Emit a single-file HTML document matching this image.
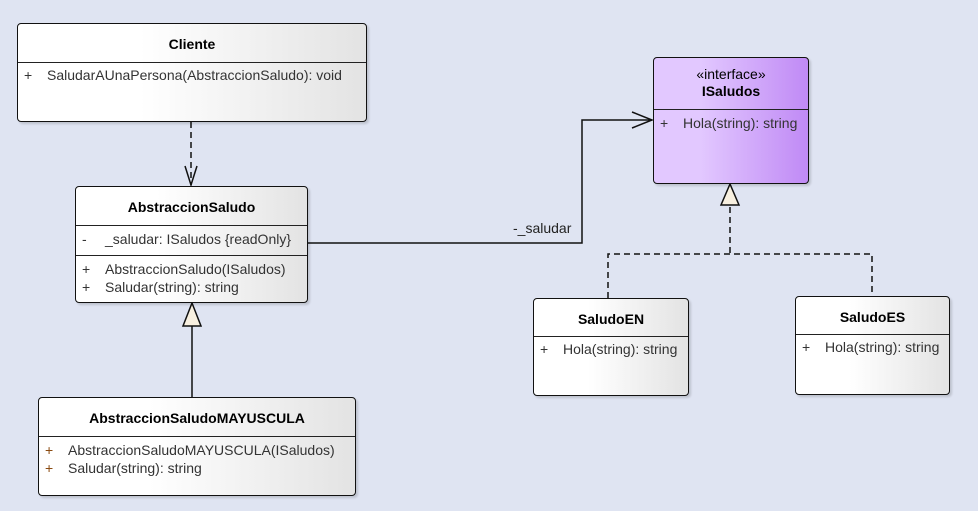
<!DOCTYPE html>
<html><head><meta charset="utf-8"><style>
body{margin:0;width:978px;height:511px;background:#dfe4f2;position:relative;overflow:hidden;font-family:"Liberation Sans",Arial,sans-serif;}
.box{position:absolute;border:1.5px solid #111;border-radius:4px;background:linear-gradient(to right,#fff 35%,#e3e3e3);box-shadow:2px 2px 2px rgba(0,0,0,0.15);box-sizing:border-box;}
.hd{font-weight:bold;font-size:14px;text-align:center;border-bottom:1px solid #222;box-sizing:border-box;}
.sec{border-bottom:1px solid #222;}
.row{font-size:14px;color:#333;height:18px;line-height:18px;position:relative;}
.row .v{position:absolute;left:6px;}
.row .t{position:absolute;left:29px;white-space:nowrap;}
.iface{background:linear-gradient(to right,#e2c8ff 30%,#c08af5);}
</style></head><body>
<svg width="978" height="511" style="position:absolute;left:0;top:0">
<g stroke="#111" stroke-width="1.5" fill="none">
<line x1="191" y1="122" x2="191" y2="185" stroke-dasharray="6,4"/>
<polyline points="185,166 191,185 197,166"/>
<polyline points="307,243 582,243 582,120 652,120"/>
<polyline points="632,112 652,120 632,128"/>
<line x1="192" y1="326" x2="192" y2="397"/>
<polygon points="192,303 183,326 201,326" fill="#f8f0e0"/>
<polygon points="730,184 721,205 739,205" fill="#f8f0e0"/>
<polyline points="730,207 730,254" stroke-dasharray="6,4"/>
<polyline points="608,298 608,254 872,254 872,296" stroke-dasharray="6,4"/>
</g>
<text x="513" y="233" font-size="14" fill="#222" font-family="Liberation Sans, sans-serif">-_saludar</text>
</svg>

<div class="box" style="left:17px;top:23px;width:350px;height:99px">
<div class="hd" style="height:39px;line-height:41px">Cliente</div>
<div class="row" style="margin-top:3px"><span class="v">+</span><span class="t">SaludarAUnaPersona(AbstraccionSaludo): void</span></div>
</div>

<div class="box" style="left:75px;top:186px;width:233px;height:117px">
<div class="hd" style="height:39px;line-height:41px">AbstraccionSaludo</div>
<div class="sec" style="height:29px"><div class="row" style="top:4px"><span class="v">-</span><span class="t">_saludar: ISaludos {readOnly}</span></div></div>
<div class="row" style="margin-top:4px"><span class="v">+</span><span class="t">AbstraccionSaludo(ISaludos)</span></div>
<div class="row"><span class="v">+</span><span class="t">Saludar(string): string</span></div>
</div>

<div class="box" style="left:38px;top:397px;width:318px;height:99px">
<div class="hd" style="height:39px;line-height:41px">AbstraccionSaludoMAYUSCULA</div>
<div class="row" style="margin-top:4px"><span class="v" style="color:#8a4a10">+</span><span class="t">AbstraccionSaludoMAYUSCULA(ISaludos)</span></div>
<div class="row"><span class="v" style="color:#8a4a10">+</span><span class="t">Saludar(string): string</span></div>
</div>

<div class="box iface" style="left:653px;top:57px;width:156px;height:127px">
<div class="hd" style="height:52px;font-weight:normal;padding-top:8px;line-height:17px">«interface»<br><b>ISaludos</b></div>
<div class="row" style="margin-top:4px"><span class="v">+</span><span class="t">Hola(string): string</span></div>
</div>

<div class="box" style="left:533px;top:298px;width:156px;height:98px">
<div class="hd" style="height:38px;line-height:40px">SaludoEN</div>
<div class="row" style="margin-top:3px"><span class="v">+</span><span class="t">Hola(string): string</span></div>
</div>

<div class="box" style="left:795px;top:296px;width:155px;height:99px">
<div class="hd" style="height:38px;line-height:40px">SaludoES</div>
<div class="row" style="margin-top:3px"><span class="v">+</span><span class="t">Hola(string): string</span></div>
</div>
</body></html>
